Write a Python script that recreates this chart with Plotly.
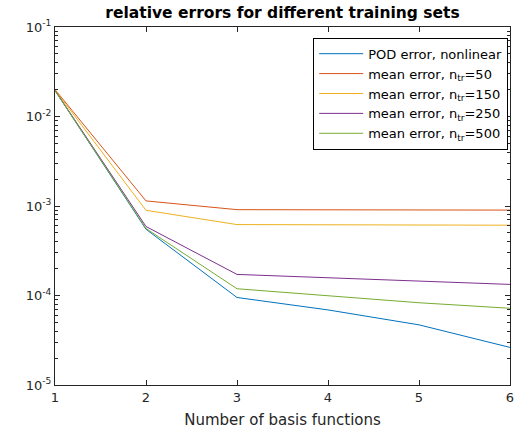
import plotly.graph_objects as go

# Number of basis functions
n_basis = [1, 2, 3, 4, 5, 6]

# Relative errors
pod_error = [0.0195, 5.5e-4, 9.5e-5, 6.9e-5, 4.7e-5, 2.63e-5]
mean_50 = [0.0200, 1.14e-3, 9.1e-4, 9.05e-4, 9.0e-4, 9.0e-4]
mean_150 = [0.0198, 8.95e-4, 6.2e-4, 6.15e-4, 6.1e-4, 6.1e-4]
mean_250 = [0.0196, 5.9e-4, 1.72e-4, 1.57e-4, 1.44e-4, 1.33e-4]
mean_500 = [0.0195, 5.6e-4, 1.19e-4, 9.9e-5, 8.3e-5, 7.2e-5]

series_names = [
    "POD error, nonlinear",
    "mean error, n<sub>tr</sub>=50",
    "mean error, n<sub>tr</sub>=150",
    "mean error, n<sub>tr</sub>=250",
    "mean error, n<sub>tr</sub>=500",
]
series_values = [pod_error, mean_50, mean_150, mean_250, mean_500]
colors = ["#0072BD", "#D95319", "#EDB120", "#7E2F8E", "#77AC30"]

y_decades = [-5, -4, -3, -2, -1]
y_tick_vals = [10.0 ** d for d in y_decades]
y_tick_text = ["10<sup>%d</sup>" % d for d in y_decades]
# minor log ticks at 2..9 within each decade
y_minor_vals = [m * 10.0 ** d for d in y_decades[:-1] for m in range(2, 10)]

fig = go.Figure()
for name, vals, c in zip(series_names, series_values, colors):
    fig.add_trace(go.Scatter(x=n_basis, y=vals, mode="lines", name=name,
                             line=dict(color=c, width=1)))

axis_color = "#262626"
fig.update_layout(
    width=520, height=436,
    margin=dict(l=55, r=10, t=27, b=51, autoexpand=False),
    paper_bgcolor="white", plot_bgcolor="white",
    font=dict(family="DejaVu Sans", size=13, color=axis_color),
    title=dict(text="<b>relative errors for different training sets</b>",
               x=(55 + 510) / 2 / 520, xanchor="center", y=1 - 13 / 436, yanchor="middle",
               font=dict(size=15.5, color="black")),
    legend=dict(x=0.996, xanchor="right", y=0.97, yanchor="top",
                bgcolor="white", bordercolor="black", borderwidth=1,
                font=dict(size=13, color="black"), tracegroupgap=0, itemwidth=44),
    showlegend=True,
    xaxis=dict(
        range=[1, 6], tickvals=n_basis, ticks="inside", ticklen=5, tickwidth=1,
        tickcolor=axis_color, automargin=False,
        showline=True, linecolor=axis_color, linewidth=1, mirror="allticks",
        showgrid=False, zeroline=False,
        title=dict(text="Number of basis functions", font=dict(size=15), standoff=10),
        tickfont=dict(size=13),
    ),
    yaxis=dict(
        type="log", range=[-5, -1], tickmode="array", tickvals=y_tick_vals,
        ticktext=y_tick_text, ticks="inside", ticklen=5, tickwidth=1,
        tickcolor=axis_color, automargin=False,
        showline=True, linecolor=axis_color, linewidth=1, mirror="allticks",
        showgrid=False, zeroline=False, tickfont=dict(size=13),
        minor=dict(ticks="inside", ticklen=3, tickwidth=1, tickcolor=axis_color,
                   tickmode="array", tickvals=y_minor_vals, showgrid=False),
    ),
)

fig.write_html("out.html")
